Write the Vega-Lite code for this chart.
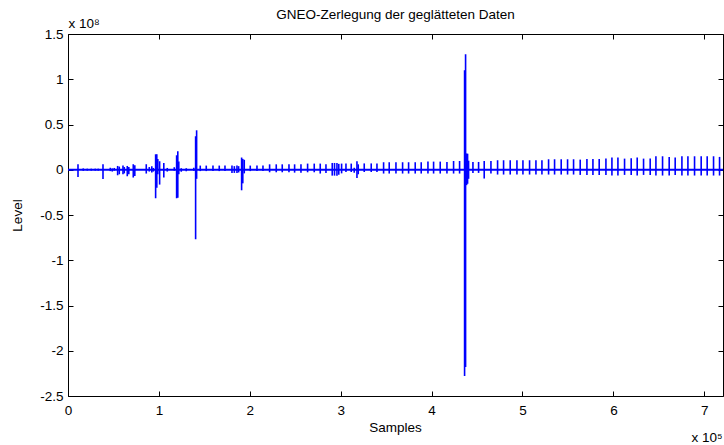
{
  "$schema": "https://vega.github.io/schema/vega-lite/v6.json",
  "width": 655,
  "height": 362,
  "autosize": {"type": "none"},
  "padding": {"left": 68, "top": 34, "right": 1, "bottom": 49},
  "background": "white",
  "config": {
    "view": {"stroke": "black", "strokeWidth": 1},
    "font": "Liberation Sans",
    "axis": {
      "grid": false,
      "domain": false,
      "tickColor": "black",
      "tickSize": -5,
      "tickWidth": 1,
      "labelColor": "black",
      "labelFont": "Liberation Sans",
      "labelFontSize": 13.5,
      "labelFlush": false,
      "labelOverlap": false,
      "titleColor": "black",
      "titleFont": "Liberation Sans",
      "titleFontSize": 13.5,
      "titleFontWeight": "normal"
    }
  },
  "title": {
    "text": "GNEO-Zerlegung der geglätteten Daten",
    "font": "Liberation Sans",
    "fontSize": 13.5,
    "fontWeight": "normal",
    "color": "black",
    "anchor": "middle",
    "frame": "group",
    "offset": -5
  },
  "datasets": {
    "spikes": [
      {"s": 11000, "lo": -8000000, "hi": 6100000},
      {"s": 16800, "lo": -1200000, "hi": 1500000},
      {"s": 21200, "lo": -1000000, "hi": 1200000},
      {"s": 25600, "lo": -1000000, "hi": 1200000},
      {"s": 30000, "lo": -1000000, "hi": 1200000},
      {"s": 33300, "lo": -1000000, "hi": 1200000},
      {"s": 38500, "lo": -10300000, "hi": 6100000},
      {"s": 46500, "lo": -1500000, "hi": 2200000},
      {"s": 48700, "lo": -2000000, "hi": 1500000},
      {"s": 50900, "lo": -1000000, "hi": 2000000},
      {"s": 54600, "lo": -6100000, "hi": 4200000},
      {"s": 56400, "lo": -5000000, "hi": 3500000},
      {"s": 60500, "lo": -5000000, "hi": 4600000},
      {"s": 61900, "lo": -4000000, "hi": 3000000},
      {"s": 65200, "lo": -7200000, "hi": 4200000},
      {"s": 66900, "lo": -5000000, "hi": 3000000},
      {"s": 71800, "lo": -8600000, "hi": 6100000},
      {"s": 73500, "lo": -7000000, "hi": 5000000},
      {"s": 86100, "lo": -4200000, "hi": 6100000},
      {"s": 89400, "lo": -2000000, "hi": 3000000},
      {"s": 92200, "lo": -3000000, "hi": 4000000},
      {"s": 93800, "lo": -2000000, "hi": 2000000},
      {"s": 96400, "lo": -31500000, "hi": 17100000},
      {"s": 97700, "lo": -20000000, "hi": 17000000},
      {"s": 98800, "lo": -5000000, "hi": 12000000},
      {"s": 100800, "lo": -16400000, "hi": 9400000},
      {"s": 105400, "lo": -8600000, "hi": 7500000},
      {"s": 109200, "lo": -2000000, "hi": 2000000},
      {"s": 116900, "lo": -1000000, "hi": 2800000},
      {"s": 119500, "lo": -31500000, "hi": 16000000},
      {"s": 120800, "lo": -31000000, "hi": 20500000},
      {"s": 121900, "lo": -5000000, "hi": 9000000},
      {"s": 124600, "lo": -2200000, "hi": 1700000},
      {"s": 130100, "lo": -1700000, "hi": 1700000},
      {"s": 138400, "lo": -1100000, "hi": 2200000},
      {"s": 140400, "lo": -76800000, "hi": 37000000},
      {"s": 141500, "lo": -10000000, "hi": 43600000},
      {"s": 145500, "lo": -1500000, "hi": 4600000},
      {"s": 152100, "lo": -1500000, "hi": 4600000},
      {"s": 159500, "lo": -1500000, "hi": 4600000},
      {"s": 166400, "lo": -1500000, "hi": 4600000},
      {"s": 172700, "lo": -1500000, "hi": 4600000},
      {"s": 180400, "lo": -3500000, "hi": 4600000},
      {"s": 183000, "lo": -3500000, "hi": 4000000},
      {"s": 185900, "lo": -3500000, "hi": 4600000},
      {"s": 187700, "lo": -3000000, "hi": 4000000},
      {"s": 191000, "lo": -22700000, "hi": 13500000},
      {"s": 192300, "lo": -15000000, "hi": 12000000},
      {"s": 193900, "lo": -4000000, "hi": 11000000},
      {"s": 200500, "lo": -1500000, "hi": 4600000},
      {"s": 207900, "lo": -1500000, "hi": 4600000},
      {"s": 214500, "lo": -1500000, "hi": 4600000},
      {"s": 221800, "lo": -2800000, "hi": 6000000},
      {"s": 229100, "lo": -2800000, "hi": 6000000},
      {"s": 235700, "lo": -2800000, "hi": 6000000},
      {"s": 243100, "lo": -2800000, "hi": 6000000},
      {"s": 249300, "lo": -3200000, "hi": 6000000},
      {"s": 256300, "lo": -3200000, "hi": 6000000},
      {"s": 263600, "lo": -2800000, "hi": 6800000},
      {"s": 270900, "lo": -2800000, "hi": 6800000},
      {"s": 277500, "lo": -4200000, "hi": 6800000},
      {"s": 283800, "lo": -3500000, "hi": 6100000},
      {"s": 290700, "lo": -6500000, "hi": 7500000},
      {"s": 293200, "lo": -6500000, "hi": 7500000},
      {"s": 295900, "lo": -6500000, "hi": 7500000},
      {"s": 297900, "lo": -5500000, "hi": 6500000},
      {"s": 301000, "lo": -4000000, "hi": 6800000},
      {"s": 305800, "lo": -2500000, "hi": 6800000},
      {"s": 311600, "lo": -2500000, "hi": 6800000},
      {"s": 314900, "lo": -3300000, "hi": 2200000},
      {"s": 317900, "lo": -9000000, "hi": 9400000},
      {"s": 319300, "lo": -5000000, "hi": 6000000},
      {"s": 325900, "lo": -2500000, "hi": 7000000},
      {"s": 333600, "lo": -2500000, "hi": 7000000},
      {"s": 339900, "lo": -2500000, "hi": 7000000},
      {"s": 347200, "lo": -4200000, "hi": 8300000},
      {"s": 353400, "lo": -4200000, "hi": 8300000},
      {"s": 360800, "lo": -4200000, "hi": 8300000},
      {"s": 368100, "lo": -4200000, "hi": 8300000},
      {"s": 374700, "lo": -4200000, "hi": 8300000},
      {"s": 382000, "lo": -4200000, "hi": 8300000},
      {"s": 388600, "lo": -4200000, "hi": 8300000},
      {"s": 396000, "lo": -4200000, "hi": 9000000},
      {"s": 402200, "lo": -4200000, "hi": 9000000},
      {"s": 409500, "lo": -4200000, "hi": 9000000},
      {"s": 416900, "lo": -4200000, "hi": 8600000},
      {"s": 424200, "lo": -4200000, "hi": 9700000},
      {"s": 430800, "lo": -4200000, "hi": 9700000},
      {"s": 436300, "lo": -228000000, "hi": 110000000},
      {"s": 437400, "lo": -218000000, "hi": 127600000},
      {"s": 438500, "lo": -17000000, "hi": 18000000},
      {"s": 439600, "lo": -15500000, "hi": 17700000},
      {"s": 440700, "lo": -10000000, "hi": 10000000},
      {"s": 445500, "lo": -3500000, "hi": 8600000},
      {"s": 451700, "lo": -3500000, "hi": 8600000},
      {"s": 457900, "lo": -9700000, "hi": 9700000},
      {"s": 465300, "lo": -4200000, "hi": 9700000},
      {"s": 472600, "lo": -5300000, "hi": 10500000},
      {"s": 479200, "lo": -5300000, "hi": 10500000},
      {"s": 486500, "lo": -5300000, "hi": 10500000},
      {"s": 493900, "lo": -5300000, "hi": 10500000},
      {"s": 500500, "lo": -5300000, "hi": 10500000},
      {"s": 507800, "lo": -5300000, "hi": 10500000},
      {"s": 514800, "lo": -5300000, "hi": 10500000},
      {"s": 521400, "lo": -5300000, "hi": 10500000},
      {"s": 528700, "lo": -5300000, "hi": 11600000},
      {"s": 535300, "lo": -5300000, "hi": 11600000},
      {"s": 542600, "lo": -5300000, "hi": 11600000},
      {"s": 549600, "lo": -5300000, "hi": 11600000},
      {"s": 556200, "lo": -5300000, "hi": 11600000},
      {"s": 563500, "lo": -5700000, "hi": 11200000},
      {"s": 570900, "lo": -5700000, "hi": 12000000},
      {"s": 577500, "lo": -5700000, "hi": 12000000},
      {"s": 584400, "lo": -5700000, "hi": 12000000},
      {"s": 591800, "lo": -5700000, "hi": 12300000},
      {"s": 598400, "lo": -6400000, "hi": 13400000},
      {"s": 605000, "lo": -6400000, "hi": 13400000},
      {"s": 612300, "lo": -5700000, "hi": 12300000},
      {"s": 619600, "lo": -5700000, "hi": 12700000},
      {"s": 626200, "lo": -6400000, "hi": 13400000},
      {"s": 633200, "lo": -5700000, "hi": 12300000},
      {"s": 640500, "lo": -5700000, "hi": 12300000},
      {"s": 646800, "lo": -6400000, "hi": 14900000},
      {"s": 654100, "lo": -6400000, "hi": 14900000},
      {"s": 661400, "lo": -6400000, "hi": 14200000},
      {"s": 668000, "lo": -5700000, "hi": 13400000},
      {"s": 675400, "lo": -6400000, "hi": 14900000},
      {"s": 682000, "lo": -6400000, "hi": 14900000},
      {"s": 689300, "lo": -6400000, "hi": 14900000},
      {"s": 696600, "lo": -6400000, "hi": 14900000},
      {"s": 703200, "lo": -6400000, "hi": 14900000},
      {"s": 710200, "lo": -6400000, "hi": 14900000},
      {"s": 716800, "lo": -6400000, "hi": 14200000}
    ],
    "ends": [
      {"s": 0, "level": 0},
      {"s": 720600, "level": 0}
    ]
  },
  "layer": [
    {
      "data": {"name": "ends"},
      "mark": {"type": "line", "color": "#0000ff", "strokeWidth": 2, "clip": true},
      "encoding": {
        "x": {
          "field": "s",
          "type": "quantitative",
          "scale": {"domain": [0, 720600], "nice": false, "zero": false},
          "axis": {
            "orient": "top",
            "values": [0, 100000, 200000, 300000, 400000, 500000, 600000, 700000],
            "labels": false,
            "title": "x 10⁸",
            "titleX": 0,
            "titleY": -7,
            "titleAlign": "left",
            "titleAnchor": null,
            "titleBaseline": "alphabetic"
          }
        },
        "y": {
          "field": "level",
          "type": "quantitative",
          "scale": {"domain": [-250000000, 150000000], "nice": false, "zero": false},
          "axis": {
            "orient": "right",
            "values": [-250000000, -200000000, -150000000, -100000000, -50000000, 0, 50000000, 100000000, 150000000],
            "labels": false,
            "title": "x 10⁵",
            "titleAngle": 0,
            "titleX": -1,
            "titleY": 407,
            "titleAlign": "right",
            "titleAnchor": null,
            "titleBaseline": "alphabetic"
          }
        }
      }
    },
    {
      "data": {"name": "spikes"},
      "mark": {"type": "rule", "color": "#0000ff", "strokeWidth": 1.6, "clip": true},
      "encoding": {
        "x": {
          "field": "s",
          "type": "quantitative",
          "axis": {
            "orient": "bottom",
            "values": [0, 100000, 200000, 300000, 400000, 500000, 600000, 700000],
            "labelExpr": "'' + datum.value / 100000",
            "labelPadding": 12,
            "title": "Samples",
            "titleX": 327,
            "titleY": 31,
            "titleAnchor": null,
            "titleBaseline": "middle"
          }
        },
        "y": {
          "field": "lo",
          "type": "quantitative",
          "axis": {
            "orient": "left",
            "values": [-250000000, -200000000, -150000000, -100000000, -50000000, 0, 50000000, 100000000, 150000000],
            "labelExpr": "'' + datum.value / 100000000",
            "labelPadding": 10,
            "title": "Level",
            "titleX": -51,
            "titleY": 181,
            "titleAnchor": null,
            "titleAlign": "center",
            "titleBaseline": "middle"
          }
        },
        "y2": {"field": "hi"}
      }
    }
  ]
}
